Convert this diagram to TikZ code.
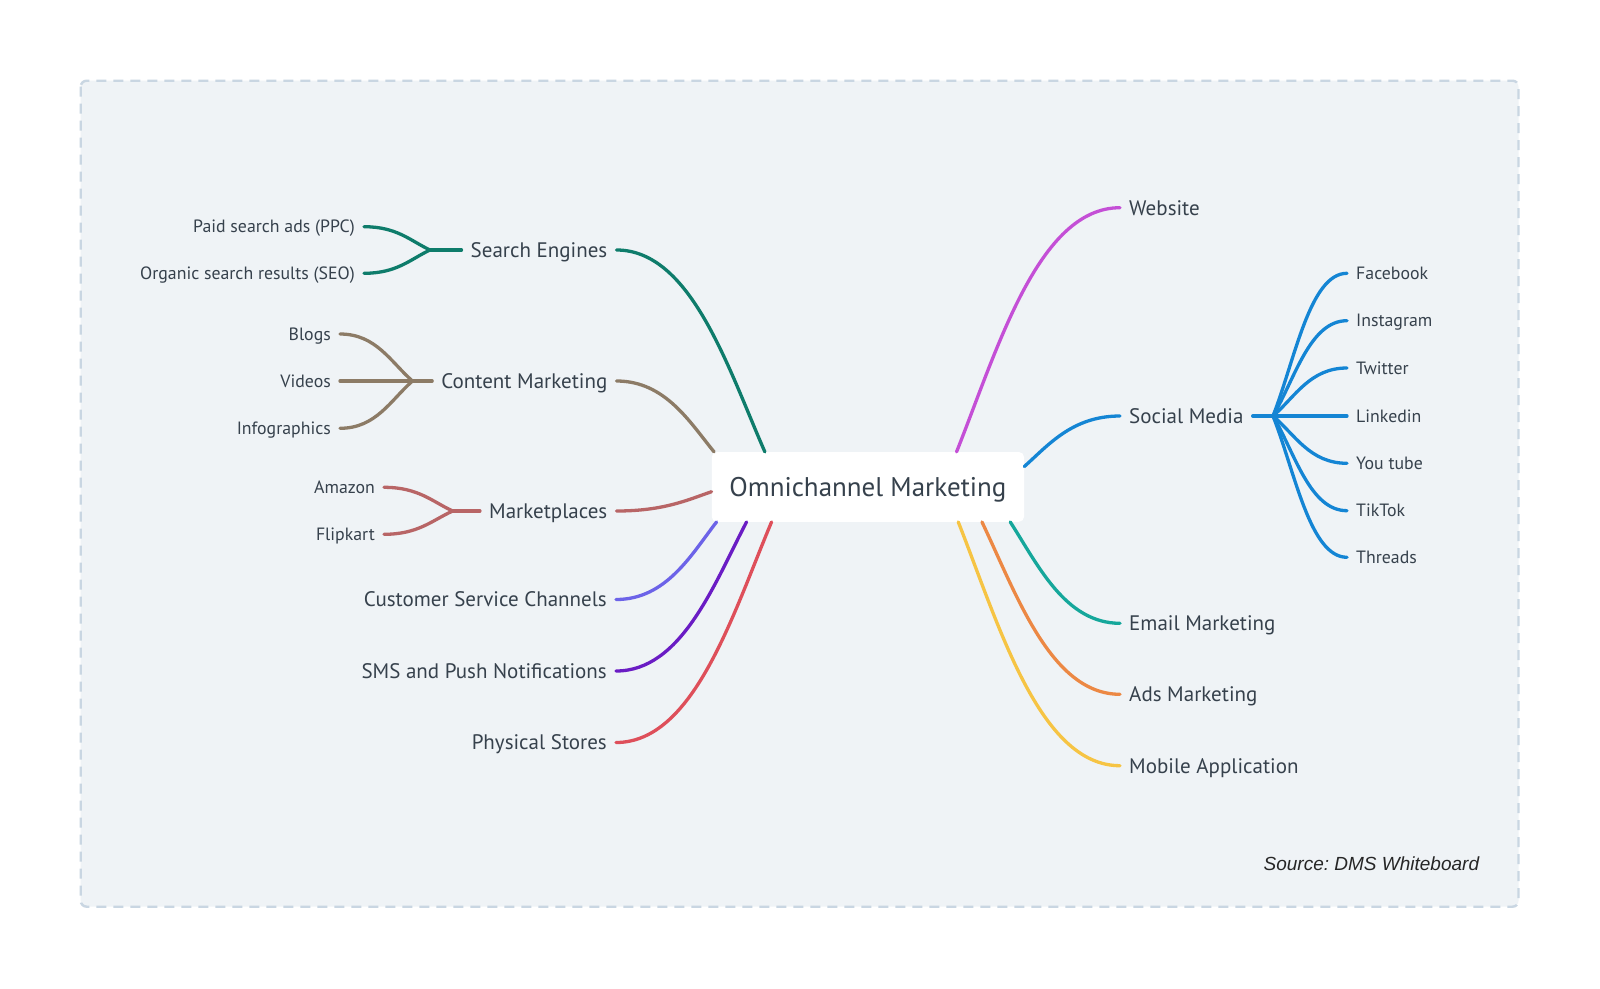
\documentclass[tikz,border=0pt]{standalone}
\usepackage{fontspec}
\setmainfont{PT Sans}
\newfontfamily\srcfont{Liberation Sans}
\usetikzlibrary{calc}
\frenchspacing
\definecolor{txt}{HTML}{36414C}
\definecolor{bgpanel}{HTML}{EFF3F6}
\definecolor{bord}{HTML}{C9D6E2}
\definecolor{seC}{HTML}{0E7C6B}
\definecolor{cmC}{HTML}{8C7B66}
\definecolor{mpC}{HTML}{B86566}
\definecolor{csC}{HTML}{6C63E8}
\definecolor{smsC}{HTML}{6A1CC4}
\definecolor{psC}{HTML}{DE4F5A}
\definecolor{webC}{HTML}{C44FD6}
\definecolor{socC}{HTML}{1485D4}
\definecolor{emC}{HTML}{15A79B}
\definecolor{adsC}{HTML}{EC8844}
\definecolor{mobC}{HTML}{F6C444}
\newcommand\mmconn[3]{\draw[wire,#1] let \p1=(#2), \p2=(#3) in (\p1) .. controls ({\x1+0.5*(\x2-\x1)},\y1) and ({\x2-0.25*(\x2-\x1)},{\y2-0.42*(\y2-\y1)}) .. (\p2);}
\newcommand\mmsub[3]{\draw[wire,#1] let \p1=(#2), \p2=(#3) in (\p1) .. controls ({\x1+0.5*(\x2-\x1)},\y1) and ({\x2-0.3*(\x2-\x1)},{\y2-0.4*(\y2-\y1)}) .. (\p2);}
\begin{document}
\begin{tikzpicture}[x=1pt,y=-1pt,
  lab/.style={font=\fontsize{21}{24}\selectfont, text=txt, inner xsep=9pt, inner ysep=0pt, text height=14.7pt, text depth=0pt},
  sublab/.style={font=\fontsize{17.8}{21}\selectfont, text=txt, inner xsep=9pt, inner ysep=0pt, text height=12.46pt, text depth=0pt},
  wire/.style={line width=3.3pt, line cap=round},
  centerbox/.style={fill=white, rounded corners=5pt, minimum width=312.3pt, minimum height=69.7pt, inner sep=0pt, text height=18.9pt, text depth=0pt, font=\fontsize{27}{30}\selectfont, text=txt}]
\useasboundingbox (0,0) rectangle (1600,988);
\fill[white] (0,0) rectangle (1600,988);
\draw[bord, fill=bgpanel, line width=2.4pt, dash pattern=on 10pt off 7pt, rounded corners=6pt] (80.7,80.7) rectangle (1518.5,906.7);

% centre
\node[centerbox] (c) at (867.9,486.9) {Omnichannel Marketing};

% left main labels
\node[lab, anchor=east] (se)  at (616.5,250)   {Search Engines};
\node[lab, anchor=east] (cm)  at (616.5,381)   {Content Marketing};
\node[lab, anchor=east] (mp)  at (616.5,511)   {Marketplaces};
\node[lab, anchor=east] (cs)  at (616,599.5)   {Customer Service Channels};
\node[lab, anchor=east] (sms) at (616,671)     {SMS and Push Notifications};
\node[lab, anchor=east] (ps)  at (616,742.5)   {Physical Stores};

% right main labels
\node[lab, anchor=west] (web) at (1120,207.7) {Website};
\node[lab, anchor=west] (sm)  at (1120,416)   {Social Media};
\node[lab, anchor=west] (em)  at (1120,623.3) {Email Marketing};
\node[lab, anchor=west] (ads) at (1120,694.3) {Ads Marketing};
\node[lab, anchor=west] (mob) at (1120,765.7) {Mobile Application};

% sub labels left
\node[sublab, anchor=east] (ppc) at (364,226.7) {Paid search ads (PPC)};
\node[sublab, anchor=east] (seo) at (364,273.3) {Organic search results (SEO)};
\node[sublab, anchor=east] (blg) at (340,334)   {Blogs};
\node[sublab, anchor=east] (vid) at (340,381)   {Videos};
\node[sublab, anchor=east] (inf) at (340,428.3) {Infographics};
\node[sublab, anchor=east] (amz) at (384,487.3) {Amazon};
\node[sublab, anchor=east] (flp) at (384,534.3) {Flipkart};

% sub labels right
\node[sublab, anchor=west] (fb) at (1347,273.3) {Facebook};
\node[sublab, anchor=west] (ig) at (1347,320.7) {Instagram};
\node[sublab, anchor=west] (tw) at (1347,368)   {Twitter};
\node[sublab, anchor=west] (li) at (1347,416)   {Linkedin};
\node[sublab, anchor=west] (yt) at (1347,463.3) {You tube};
\node[sublab, anchor=west] (tt) at (1347,510.7) {TikTok};
\node[sublab, anchor=west] (th) at (1347,557.3) {Threads};

% hubs
\coordinate (hse) at (430,250);
\coordinate (hcm) at (412.5,381);
\coordinate (hmp) at (452.7,511);
\coordinate (hsm) at (1273,416);

% main connectors
\mmconn{seC}{se.east}{$(c.north west)+(53.3,0)$}
\mmconn{cmC}{cm.east}{$(c.north west)+(2.5,0)$}
\mmconn{mpC}{mp.east}{$(c.west)+(0,4.8)$}
\mmconn{csC}{cs.east}{$(c.south west)+(5,0)$}
\mmconn{smsC}{sms.east}{$(c.south west)+(35,0)$}
\mmconn{psC}{ps.east}{$(c.south west)+(60,0)$}
\mmconn{webC}{web.west}{$(c.north west)+(245,0)$}
\mmconn{socC}{sm.west}{$(c.north east)+(0,14.7)$}
\mmconn{emC}{em.west}{$(c.south east)+(-14,0)$}
\mmconn{adsC}{ads.west}{$(c.south east)+(-42.3,0)$}
\mmconn{mobC}{mob.west}{$(c.south east)+(-66,0)$}

% sub connectors
\draw[wire,seC] (se.west) -- (hse);
\mmsub{seC}{ppc.east}{hse}
\mmsub{seC}{seo.east}{hse}
\draw[wire,cmC] (cm.west) -- (hcm);
\mmsub{cmC}{blg.east}{hcm}
\mmsub{cmC}{vid.east}{hcm}
\mmsub{cmC}{inf.east}{hcm}
\draw[wire,mpC] (mp.west) -- (hmp);
\mmsub{mpC}{amz.east}{hmp}
\mmsub{mpC}{flp.east}{hmp}
\draw[wire,socC] (sm.east) -- (hsm);
\mmsub{socC}{fb.west}{hsm}
\mmsub{socC}{ig.west}{hsm}
\mmsub{socC}{tw.west}{hsm}
\mmsub{socC}{li.west}{hsm}
\mmsub{socC}{yt.west}{hsm}
\mmsub{socC}{tt.west}{hsm}
\mmsub{socC}{th.west}{hsm}

% source
\node[anchor=east, inner sep=0pt, font=\srcfont\itshape\fontsize{19}{22}\selectfont, text=black!85] (src) at (1479.3,863.3) {Source: DMS Whiteboard};
\end{tikzpicture}
\end{document}
